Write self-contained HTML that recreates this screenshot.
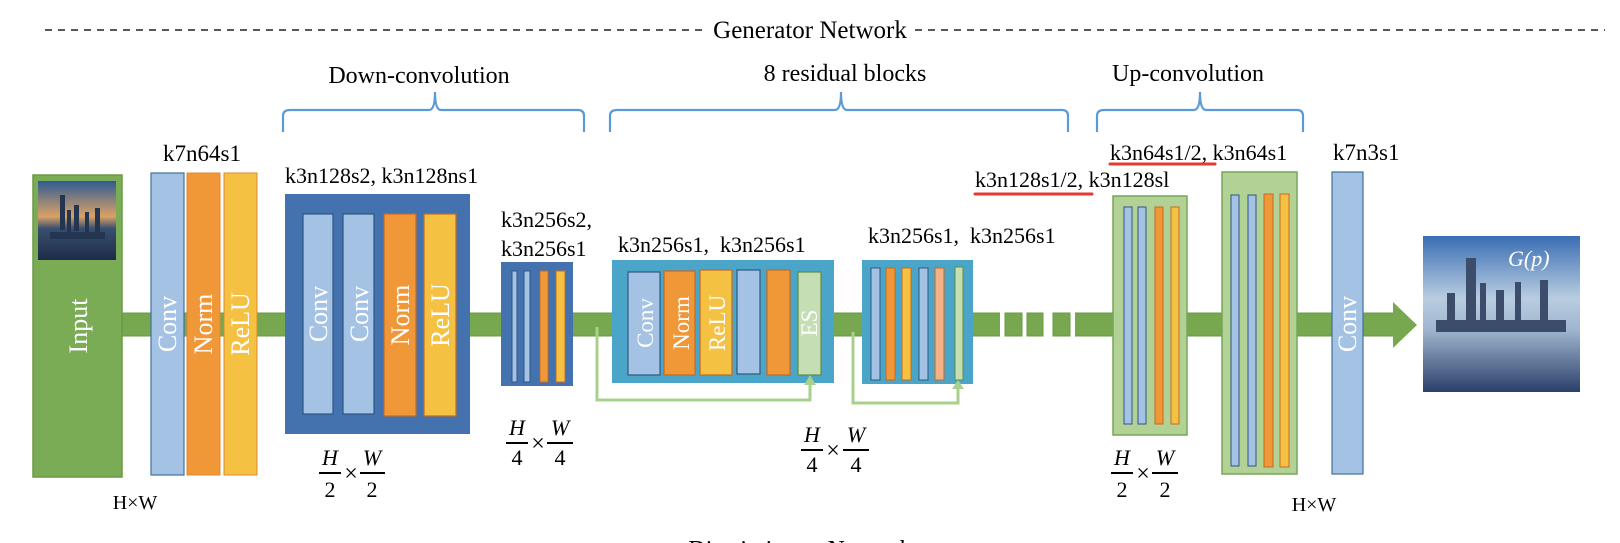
<!DOCTYPE html>
<html><head><meta charset="utf-8"><style>
html,body{margin:0;padding:0;background:#fff;}
svg{display:block;}
text{font-family:"Liberation Serif",serif;}
</style></head><body>
<svg width="1620" height="543" viewBox="0 0 1620 543" xmlns="http://www.w3.org/2000/svg">
<defs>
<linearGradient id="sky1" x1="0" y1="0" x2="0" y2="1"><stop offset="0" stop-color="#2e5a93"/><stop offset="0.45" stop-color="#d9a266"/><stop offset="0.6" stop-color="#3a4f6e"/><stop offset="1" stop-color="#1d2c47"/></linearGradient>
<linearGradient id="sky2" x1="0" y1="0" x2="0" y2="1"><stop offset="0" stop-color="#3a6db3"/><stop offset="0.4" stop-color="#b9cde0"/><stop offset="0.6" stop-color="#9fb6cf"/><stop offset="1" stop-color="#2a3f6a"/></linearGradient>
</defs>
<!-- header -->
<line x1="45" y1="30" x2="705" y2="30" stroke="#222" stroke-width="1.5" stroke-dasharray="7,6"/>
<line x1="915" y1="30" x2="1605" y2="30" stroke="#222" stroke-width="1.5" stroke-dasharray="7,6"/>
<text x="810" y="38" font-size="25" text-anchor="middle">Generator Network</text>
<text x="419" y="83" font-size="24" text-anchor="middle">Down-convolution</text>
<text x="845" y="81" font-size="24" text-anchor="middle">8 residual blocks</text>
<text x="1188" y="81" font-size="24" text-anchor="middle">Up-convolution</text>
<g fill="none" stroke="#5b9bd5" stroke-width="2.2">
<path d="M283 132 V116 Q283 110 290 110 H429 Q435 110 435 92 Q435 110 441 110 H578 Q584 110 584 116 V132"/>
<path d="M610 132 V116 Q610 110 617 110 H835 Q841 110 841 92 Q841 110 847 110 H1062 Q1068 110 1068 116 V132"/>
<path d="M1097 132 V116 Q1097 110 1104 110 H1194 Q1200 110 1200 92 Q1200 110 1206 110 H1297 Q1303 110 1303 116 V132"/>
</g>
<!-- main bar -->
<rect x="118" y="313" width="1276" height="23" fill="#77a84f" stroke="#6a9a45"/>
<rect x="1000" y="310" width="75" height="30" fill="#fff"/>
<rect x="1005" y="313" width="17" height="23" fill="#77a84f" stroke="#6a9a45"/>
<rect x="1027" y="313" width="16" height="23" fill="#77a84f" stroke="#6a9a45"/>
<rect x="1053" y="313" width="17" height="23" fill="#77a84f" stroke="#6a9a45"/>
<polygon points="1393,302 1417,325 1393,348" fill="#77a84f"/>
<!-- input -->
<rect x="33" y="175" width="89" height="302" fill="#7aab55" stroke="#6a9a45" stroke-width="1.5"/>
<rect x="38" y="181" width="78" height="79" fill="url(#sky1)"/>
<g fill="#243551"><rect x="60" y="195" width="5" height="35"/><rect x="67" y="210" width="4" height="22"/><rect x="74" y="205" width="5" height="26"/><rect x="85" y="212" width="4" height="20"/><rect x="95" y="208" width="5" height="24"/><rect x="50" y="232" width="55" height="7"/></g>
<text transform="translate(87,326) rotate(-90)" font-size="26" fill="#fff" text-anchor="middle">Input</text>
<!-- first conv group -->
<rect x="151" y="173" width="33" height="302" fill="#a4c2e4" stroke="#41719c" stroke-width="1.2"/>
<rect x="187" y="173" width="33" height="302" fill="#f09837" stroke="#e08a30" stroke-width="1"/>
<rect x="224" y="173" width="33" height="302" fill="#f5c142" stroke="#d98a2b" stroke-width="1"/>
<text transform="translate(176,324) rotate(-90)" font-size="26" fill="#fff" text-anchor="middle">Conv</text>
<text transform="translate(212,324) rotate(-90)" font-size="26" fill="#fff" text-anchor="middle">Norm</text>
<text transform="translate(249,324) rotate(-90)" font-size="26" fill="#fff" text-anchor="middle">ReLU</text>
<text x="163" y="161" font-size="23">k7n64s1</text>
<!-- down box -->
<rect x="285" y="194" width="185" height="240" fill="#4372ae"/>
<rect x="303" y="214" width="30" height="200" fill="#a4c2e4" stroke="#2f5683" stroke-width="1.2"/>
<rect x="343" y="214" width="31" height="200" fill="#a4c2e4" stroke="#2f5683" stroke-width="1.2"/>
<rect x="384" y="214" width="32" height="202" fill="#f09837" stroke="#c56a22" stroke-width="1.2"/>
<rect x="424" y="214" width="32" height="202" fill="#f5c142" stroke="#c56a22" stroke-width="1.2"/>
<text transform="translate(327,314) rotate(-90)" font-size="26" fill="#fff" text-anchor="middle">Conv</text>
<text transform="translate(368,314) rotate(-90)" font-size="26" fill="#fff" text-anchor="middle">Conv</text>
<text transform="translate(409,315) rotate(-90)" font-size="26" fill="#fff" text-anchor="middle">Norm</text>
<text transform="translate(449,315) rotate(-90)" font-size="26" fill="#fff" text-anchor="middle">ReLU</text>
<text x="285" y="183" font-size="22">k3n128s2, k3n128ns1</text>
<!-- small box -->
<rect x="501" y="262" width="72" height="124" fill="#4372ae"/>
<rect x="512" y="271" width="5" height="111" fill="#a4c2e4" stroke="#2f5683"/>
<rect x="524" y="271" width="6" height="111" fill="#a4c2e4" stroke="#2f5683"/>
<rect x="540" y="271" width="8" height="111" fill="#f09837" stroke="#c56a22"/>
<rect x="556" y="271" width="9" height="111" fill="#f5c142" stroke="#c56a22"/>
<text x="501" y="227" font-size="22">k3n256s2,</text>
<text x="501" y="256" font-size="22">k3n256s1</text>
<!-- res block 1 -->
<rect x="612" y="260" width="222" height="123" fill="#4ba5c9"/>
<rect x="628" y="272" width="32" height="103" fill="#a4c2e4" stroke="#2f5683" stroke-width="1.2"/>
<rect x="664" y="271" width="31" height="104" fill="#f09837" stroke="#c56a22" stroke-width="1.2"/>
<rect x="700" y="270" width="32" height="105" fill="#f5c142" stroke="#c56a22" stroke-width="1.2"/>
<rect x="737" y="270" width="23" height="104" fill="#a4c2e4" stroke="#2f5683" stroke-width="1.2"/>
<rect x="767" y="270" width="23" height="105" fill="#f09837" stroke="#c56a22" stroke-width="1.2"/>
<rect x="798" y="272" width="23" height="103" fill="#c6deb4" stroke="#5e8f3e" stroke-width="1.2"/>
<text transform="translate(653,323) rotate(-90)" font-size="23" fill="#fff" text-anchor="middle">Conv</text>
<text transform="translate(689,323) rotate(-90)" font-size="23" fill="#fff" text-anchor="middle">Norm</text>
<text transform="translate(725,323) rotate(-90)" font-size="23" fill="#fff" text-anchor="middle">ReLU</text>
<text transform="translate(817,323) rotate(-90)" font-size="23" fill="#fff" text-anchor="middle">ES</text>
<text x="618" y="252" font-size="22" xml:space="preserve">k3n256s1,  k3n256s1</text>
<!-- res block 2 -->
<rect x="862" y="260" width="111" height="124" fill="#4ba5c9"/>
<rect x="871" y="268" width="9" height="112" fill="#a4c2e4" stroke="#2f5683"/>
<rect x="886" y="268" width="9" height="112" fill="#f09837" stroke="#c56a22"/>
<rect x="902" y="268" width="9" height="112" fill="#f5c142" stroke="#c56a22"/>
<rect x="919" y="268" width="9" height="112" fill="#a4c2e4" stroke="#2f5683"/>
<rect x="935" y="268" width="9" height="112" fill="#f4b183" stroke="#c56a22"/>
<rect x="955" y="267" width="8" height="113" fill="#c6deb4" stroke="#5e8f3e"/>
<text x="868" y="243" font-size="22" xml:space="preserve">k3n256s1,  k3n256s1</text>
<!-- skips -->
<g fill="none" stroke="#a9d18e" stroke-width="3">
<polyline points="597,327 597,400 810,400 810,382"/>
<polyline points="853,332 853,403 958,403 958,387"/>
</g>
<polygon points="804,385 810,375 816,385" fill="#a9d18e"/>
<polygon points="952,389 958,380 964,389" fill="#a9d18e"/>
<!-- up blocks -->
<text x="975" y="187" font-size="22">k3n128s1/2, k3n128sl</text>
<line x1="975" y1="194" x2="1092" y2="194" stroke="#e53a2f" stroke-width="3" stroke-linecap="round"/>
<text x="1110" y="160" font-size="22">k3n64s1/2, k3n64s1</text>
<line x1="1110" y1="164" x2="1215" y2="164" stroke="#e53a2f" stroke-width="3" stroke-linecap="round"/>
<rect x="1113" y="196" width="74" height="239" fill="#b1d195" stroke="#79a65a" stroke-width="1.5"/>
<rect x="1124" y="207" width="8" height="217" fill="#a4c2e4" stroke="#2f5683"/>
<rect x="1138" y="207" width="8" height="217" fill="#a4c2e4" stroke="#2f5683"/>
<rect x="1155" y="207" width="8" height="217" fill="#f09837" stroke="#c56a22"/>
<rect x="1171" y="207" width="8" height="217" fill="#f5c142" stroke="#c56a22"/>
<rect x="1222" y="172" width="75" height="302" fill="#b1d195" stroke="#79a65a" stroke-width="1.5"/>
<rect x="1231" y="195" width="8" height="271" fill="#a4c2e4" stroke="#2f5683"/>
<rect x="1248" y="195" width="8" height="271" fill="#a4c2e4" stroke="#2f5683"/>
<rect x="1264" y="194" width="9" height="273" fill="#f09837" stroke="#c56a22"/>
<rect x="1280" y="194" width="9" height="273" fill="#f5c142" stroke="#c56a22"/>
<rect x="1332" y="172" width="31" height="302" fill="#a4c2e4" stroke="#41719c" stroke-width="1.2"/>
<text transform="translate(1356,324) rotate(-90)" font-size="26" fill="#fff" text-anchor="middle">Conv</text>
<text x="1333" y="160" font-size="23">k7n3s1</text>
<!-- output image -->
<rect x="1423" y="236" width="157" height="156" fill="url(#sky2)"/>
<g fill="#3b4d6b"><rect x="1466" y="258" width="10" height="62"/><rect x="1447" y="293" width="8" height="30"/><rect x="1480" y="283" width="6" height="37"/><rect x="1496" y="290" width="8" height="32"/><rect x="1515" y="282" width="6" height="40"/><rect x="1540" y="280" width="8" height="42"/><rect x="1436" y="320" width="130" height="12"/></g>
<text x="1508" y="266" font-size="22" font-style="italic" fill="#fff">G(p)</text>
<!-- dims -->
<g font-size="22" font-style="italic" text-anchor="middle">
<text x="330" y="465">H</text><text x="372" y="465">W</text>
<text x="330" y="497" font-style="normal">2</text><text x="372" y="497" font-style="normal">2</text>
<text x="517" y="435">H</text><text x="560" y="435">W</text>
<text x="517" y="465" font-style="normal">4</text><text x="560" y="465" font-style="normal">4</text>
<text x="812" y="442">H</text><text x="856" y="442">W</text>
<text x="812" y="472" font-style="normal">4</text><text x="856" y="472" font-style="normal">4</text>
<text x="1122" y="465">H</text><text x="1165" y="465">W</text>
<text x="1122" y="497" font-style="normal">2</text><text x="1165" y="497" font-style="normal">2</text>
</g>
<g stroke="#000" stroke-width="2">
<line x1="319" y1="473" x2="341" y2="473"/><line x1="360" y1="473" x2="385" y2="473"/>
<line x1="506" y1="443" x2="528" y2="443"/><line x1="547" y1="443" x2="573" y2="443"/>
<line x1="801" y1="450" x2="823" y2="450"/><line x1="843" y1="450" x2="869" y2="450"/>
<line x1="1111" y1="473" x2="1133" y2="473"/><line x1="1152" y1="473" x2="1178" y2="473"/>
</g>
<g font-size="24" text-anchor="middle">
<text x="351" y="481">×</text><text x="538" y="451">×</text><text x="833" y="458">×</text><text x="1143" y="481">×</text>
</g>
<text x="135" y="509" font-size="20" text-anchor="middle">H×W</text>
<text x="1314" y="511" font-size="20" text-anchor="middle">H×W</text>
<text x="800" y="557" font-size="24" text-anchor="middle">Discriminator Network</text>
</svg>
</body></html>
